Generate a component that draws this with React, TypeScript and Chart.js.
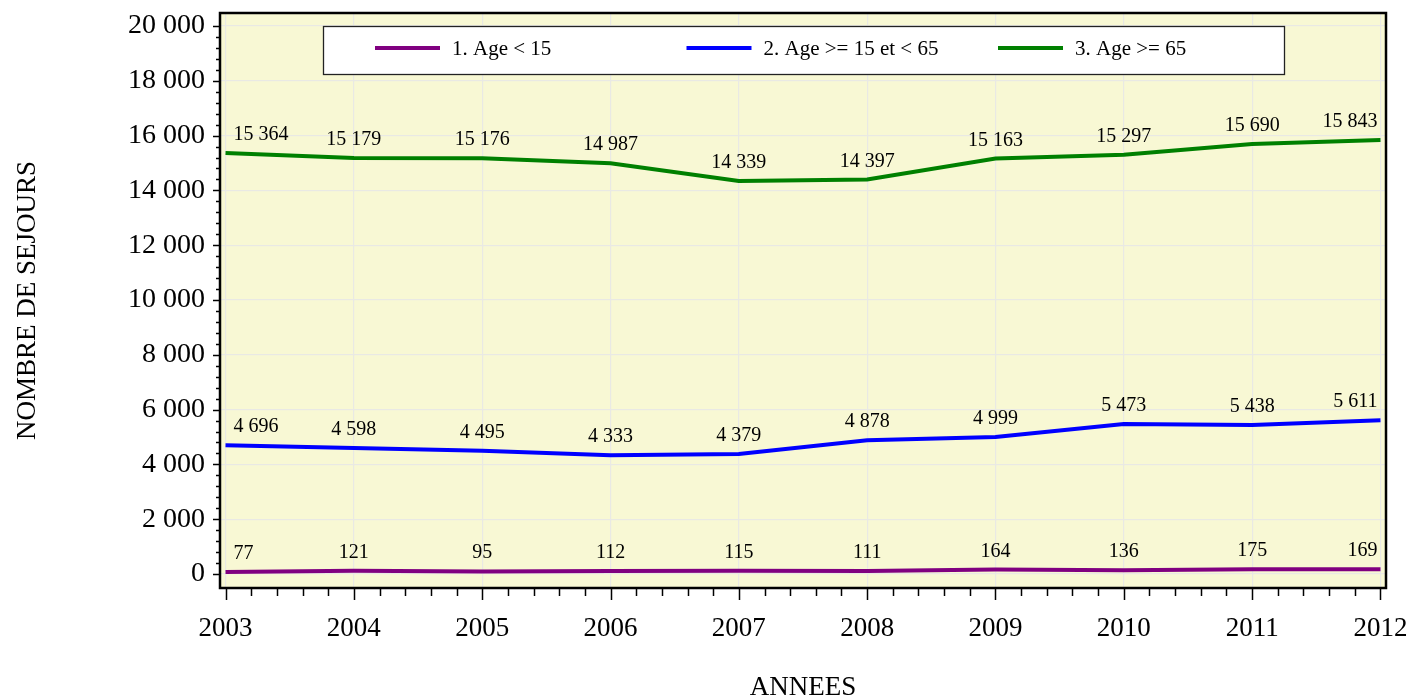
import React, { useEffect, useRef } from "react";
import { Chart, registerables } from "chart.js";

Chart.register(...registerables);

// ---- Data ----
const years = [2003, 2004, 2005, 2006, 2007, 2008, 2009, 2010, 2011, 2012];
const seriesLabels = ["1. Age < 15", "2. Age >= 15 et < 65", "3. Age >= 65"];
const ageUnder15 = [77, 121, 95, 112, 115, 111, 164, 136, 175, 169];
const age15to65 = [4696, 4598, 4495, 4333, 4379, 4878, 4999, 5473, 5438, 5611];
const age65plus = [15364, 15179, 15176, 14987, 14339, 14397, 15163, 15297, 15690, 15843];
const seriesColors = ["#800080", "#0000FF", "#008000"];
const yTickValues = [0, 2000, 4000, 6000, 8000, 10000, 12000, 14000, 16000, 18000, 20000];
const xTitle = "ANNEES";
const yTitle = "NOMBRE DE SEJOURS";

const FONT = "'Liberation Serif', 'Times New Roman', serif";
const PLOT_BG = "rgb(248,248,212)";

const fmt = (v: number): string => {
  const n = Math.round(v);
  if (Math.abs(n) < 1000) return String(n);
  const th = Math.floor(n / 1000);
  const rest = String(n % 1000).padStart(3, "0");
  return `${th} ${rest}`;
};

const zeroPadding = (scale: any) => {
  scale.paddingTop = 0;
  scale.paddingBottom = 0;
  scale.paddingLeft = 0;
  scale.paddingRight = 0;
};

const decorPlugin = {
  id: "decor",
  beforeDraw(chart: any) {
    const { ctx, chartArea: a } = chart;
    ctx.save();
    ctx.fillStyle = "#ffffff";
    ctx.fillRect(0, 0, chart.width, chart.height);
    ctx.fillStyle = PLOT_BG;
    ctx.fillRect(a.left, a.top, a.right - a.left, a.bottom - a.top);
    ctx.restore();
  },
  afterDraw(chart: any) {
    const { ctx, chartArea: a } = chart;
    const xs = chart.scales.x;
    const ys = chart.scales.y;
    ctx.save();

    // Frame
    ctx.strokeStyle = "#000";
    ctx.lineWidth = 2.5;
    ctx.strokeRect(a.left, a.top, a.right - a.left, a.bottom - a.top);

    // Y ticks (major + minor)
    ctx.lineWidth = 1.5;
    ctx.beginPath();
    for (let v = 0; v <= 20000; v += 400) {
      const y = Math.round(ys.getPixelForValue(v)) + 0.5;
      const len = v % 2000 === 0 ? 7 : 4;
      ctx.moveTo(a.left - len, y);
      ctx.lineTo(a.left, y);
    }
    // X ticks (major + minor)
    for (let i = 0; i <= (years.length - 1) * 5; i++) {
      const v = years[0] + i / 5;
      const x = Math.round(xs.getPixelForValue(v)) + 0.5;
      const len = i % 5 === 0 ? 12 : 8;
      ctx.moveTo(x, a.bottom);
      ctx.lineTo(x, a.bottom + len);
    }
    ctx.stroke();

    // Data labels
    ctx.fillStyle = "#000";
    ctx.font = `20px ${FONT}`;
    ctx.textBaseline = "alphabetic";
    chart.data.datasets.forEach((ds: any, di: number) => {
      const meta = chart.getDatasetMeta(di);
      meta.data.forEach((pt: any, i: number) => {
        const val = ds.data[i].y;
        let x = pt.x;
        if (i === 0) {
          ctx.textAlign = "left";
          x = pt.x + 8;
        } else if (i === meta.data.length - 1) {
          ctx.textAlign = "right";
          x = pt.x - 3;
        } else {
          ctx.textAlign = "center";
        }
        ctx.fillText(fmt(val), x, pt.y - 13);
      });
    });

    // Legend box
    const bx = a.left + 103;
    const by = a.top + 13;
    const bw = 961;
    const bh = 48;
    ctx.fillStyle = "#ffffff";
    ctx.fillRect(bx, by, bw, bh);
    ctx.strokeStyle = "#222";
    ctx.lineWidth = 1.3;
    ctx.strokeRect(bx + 0.5, by + 0.5, bw, bh);
    ctx.font = `21px ${FONT}`;
    ctx.textAlign = "left";
    ctx.textBaseline = "middle";
    const cy = by + 22;
    chart.data.datasets.forEach((ds: any, di: number) => {
      const sx = bx + 52 + di * 311.5;
      ctx.strokeStyle = ds.borderColor;
      ctx.lineWidth = 4;
      ctx.beginPath();
      ctx.moveTo(sx, cy);
      ctx.lineTo(sx + 65, cy);
      ctx.stroke();
      ctx.fillStyle = "#000";
      ctx.fillText(ds.label, sx + 77, cy + 1);
    });

    ctx.restore();
  },
};

export default function App() {
  const canvasRef = useRef<HTMLCanvasElement | null>(null);

  useEffect(() => {
    const canvas = canvasRef.current;
    if (!canvas) return;
    const seriesValues = [ageUnder15, age15to65, age65plus];
    const chart = new Chart(canvas, {
      type: "line",
      data: {
        datasets: seriesValues.map((vals, si) => ({
          label: seriesLabels[si],
          data: years.map((yr, i) => ({ x: yr, y: vals[i] })),
          borderColor: seriesColors[si],
          backgroundColor: seriesColors[si],
          borderWidth: 4,
          pointRadius: 0,
          tension: 0,
          fill: false,
        })),
      },
      options: {
        animation: false,
        responsive: false,
        devicePixelRatio: 1,
        layout: { padding: { top: 13, right: 30, left: 0, bottom: 0 } },
        plugins: {
          legend: { display: false },
          tooltip: { enabled: false },
        },
        scales: {
          x: {
            type: "linear",
            min: 2002.957,
            max: 2012.043,
            afterBuildTicks: (scale: any) => {
              scale.ticks = years.map((v) => ({ value: v }));
            },
            afterFit: (scale: any) => {
              scale.height = 111;
              zeroPadding(scale);
            },
            border: { display: false },
            grid: { color: "#e9e9e4", lineWidth: 1.2, drawTicks: false },
            ticks: {
              color: "#000",
              font: { family: FONT, size: 27 },
              padding: 25,
              maxRotation: 0,
              autoSkip: false,
              callback: (v: any) => String(v),
            },
            title: {
              display: true,
              text: xTitle,
              color: "#000",
              font: { family: FONT, size: 27, lineHeight: 0.8 },
              padding: { top: 0, bottom: 0 },
            },
          },
          y: {
            type: "linear",
            min: -511,
            max: 20474,
            afterBuildTicks: (scale: any) => {
              scale.ticks = yTickValues.map((v) => ({ value: v }));
            },
            afterFit: (scale: any) => {
              scale.width = 220;
              zeroPadding(scale);
            },
            border: { display: false },
            grid: { color: "#e9e9e4", lineWidth: 1.2, drawTicks: false },
            ticks: {
              color: "#000",
              font: { family: FONT, size: 28 },
              padding: 15,
              autoSkip: false,
              callback: (v: any) => fmt(Number(v)),
            },
            title: {
              display: true,
              text: yTitle,
              color: "#000",
              font: { family: FONT, size: 27, lineHeight: 1.2 },
              padding: { top: 12, bottom: 0 },
            },
          },
        },
      },
      plugins: [decorPlugin],
    } as any);
    return () => chart.destroy();
  }, []);

  return (
    <div style={{ position: "absolute", left: 0, top: 0, width: 1416, height: 699, background: "#fff" }}>
      <canvas ref={canvasRef} width={1416} height={699} style={{ display: "block" }} />
    </div>
  );
}
